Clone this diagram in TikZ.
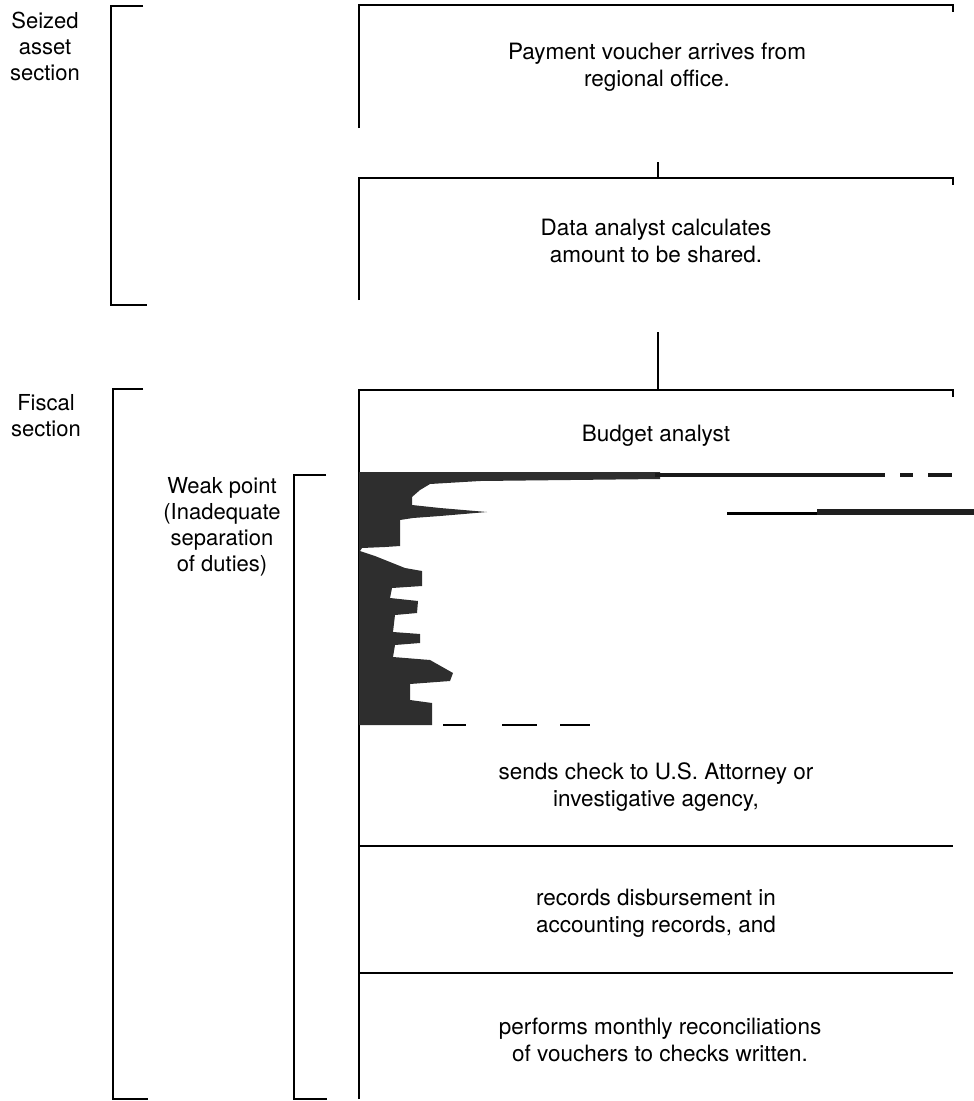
\documentclass[tikz,border=0pt]{standalone}
\usepackage{fontspec}
\setmainfont{TeX Gyre Heros}
\begin{document}
\begin{tikzpicture}[x=1pt,y=-1pt,
  boxline/.style={line width=2pt},
  conn/.style={line width=2.4pt},
  brack/.style={line width=2.8pt},
  boxtext/.style={align=center,inner sep=0pt,font=\fontsize{22.5}{27}\selectfont},
  sidetext/.style={align=center,inner sep=0pt,font=\fontsize{22}{26}\selectfont},
  shade/.style={fill=black!82,draw=none}]
\useasboundingbox (0,0) rectangle (974,1101);
% box edges (coordinates)
\coordinate (b1tl) at (359,5);   \coordinate (b1tr) at (953,5);
\coordinate (b1bl) at (359,128);
\coordinate (b1out) at (658,162);
\coordinate (b2in) at (658,178);
\coordinate (b2tl) at (359,178); \coordinate (b2tr) at (953,178);
\coordinate (b2bl) at (359,300);
\coordinate (b2out) at (658,332);
\coordinate (b3in) at (658,390);
\coordinate (b3tl) at (359,390); \coordinate (b3tr) at (953,390);
\coordinate (b3bl) at (359,1099);
% boxes
\draw[boxline] (b1bl) -- (b1tl) -- (b1tr) -- ++(0,7);
\draw[boxline] (b2bl) -- (b2tl) -- (b2tr) -- ++(0,7);
\draw[boxline] (b3bl) -- (b3tl) -- (b3tr) -- ++(0,7);
\draw[line width=1.6pt] (359,846) -- (953,846);
\draw[line width=1.6pt] (359,973) -- (953,973);
% connectors
\draw[conn] (b1out) -- (b2in);
\draw[conn] (b2out) -- (b3in);
% texts
\node[boxtext] (t1) at (657,67) {Payment voucher arrives from\\regional office.};
\node[boxtext] (t2) at (656,241) {Data analyst calculates\\amount to be shared.};
\node[boxtext] (t3) at (656,436) {Budget analyst};
\node[boxtext] (t4) at (656,787) {sends check to U.S. Attorney or\\investigative agency,};
\node[boxtext] (t5) at (656,913) {records disbursement in\\accounting records, and};
\node[boxtext] (t6) at (660,1040) {performs monthly reconciliations\\of vouchers to checks written.};
% side labels
\node[sidetext] (s1) at (45,46) {Seized\\asset\\section};
\node[sidetext] (s2) at (46,416) {Fiscal\\section};
\node[sidetext] (s3) at (222,527) {Weak point\\(Inadequate\\separation\\of duties)};
% brackets
\draw[brack] (143,6) -- (111,6) -- (111,305) -- (147,305);
\draw[brack] (143,389) -- (113,389) -- (113,1099) -- (148,1099);
\draw[brack] (326,475) -- (294,475) -- (294,1099) -- (327,1099);
% shaded (scan-damaged) region
\fill[shade] (359,472) -- (660,472) -- (660,479) -- (480,481) -- (430,484) -- (420,490)
  -- (412,497) -- (412,505) -- (440,508) -- (487,512) -- (440,516) -- (413,518)
  -- (400,520) -- (400,546) -- (385,547) -- (362,548) -- (360,551) -- (375,556)
  -- (405,568) -- (422,571) -- (422,586) -- (392,588) -- (390,598) -- (418,601)
  -- (417,613) -- (395,615) -- (393,632) -- (420,634) -- (420,643) -- (395,645)
  -- (393,657) -- (430,660) -- (453,673) -- (450,681) -- (410,684) -- (410,700)
  -- (432,703) -- (432,725) -- (359,725) -- cycle;
\draw[line width=4pt,black!90] (655,475) -- (885,475);
\draw[line width=3.5pt,black!90] (900,475) -- (913,475);
\draw[line width=3.5pt,black!90] (928,475) -- (952,475);
\draw[line width=3pt] (727,513) -- (817,513);
\draw[line width=6pt,black!88] (817,512) -- (974,512);
\draw[line width=1.6pt] (443,725) -- (466,725);
\draw[line width=1.6pt] (502,725) -- (537,725);
\draw[line width=1.6pt] (560,725) -- (590,725);
\end{tikzpicture}
\end{document}
